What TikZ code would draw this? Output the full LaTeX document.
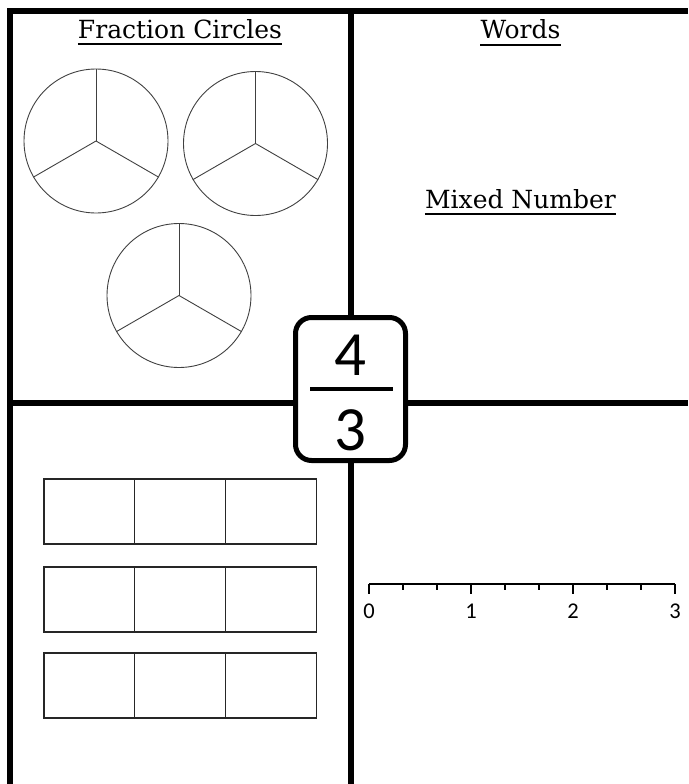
\documentclass[tikz,border=0pt]{standalone}
\usepackage{fontspec}
\setmainfont{DejaVu Serif}
\newfontfamily\digitfont{Carlito}
\usepackage{tikz}
\usetikzlibrary{positioning,calc}

\begin{document}
\begin{tikzpicture}[x=1pt, y=-1pt,
    frame/.style={line width=6, line join=miter},
    heading/.style={anchor=base, inner sep=0, font=\fontsize{25}{30}\selectfont},
    uline/.style={line width=1.8},
    pie/.style={circle, draw=black!75, line width=0.9, minimum size=144, inner sep=0},
    spoke/.style={draw=black!75, line width=0.9},
    cell/.style={draw=black!85, line width=1.2},
    fracbox/.style={draw, fill=white, line width=5, rounded corners=16, minimum width=110, minimum height=143},
    digit/.style={inner sep=0, font=\digitfont\fontsize{63}{70}\selectfont},
    numlabel/.style={inner sep=0, font=\digitfont\fontsize{22.5}{26}\selectfont}
]
    \useasboundingbox (0,0) rectangle (688,784);

    % Frame and quadrant lines
    \draw[frame] (10,784) -- (10,11) -- (688,11);
    \draw[frame] (351,11) -- (351,784);
    \draw[frame] (7,403) -- (688,403);

    % Headings
    \node[heading] (fc) at (180,38) {Fraction Circles};
    \node[heading] (words) at (520.5,39) {Words};
    \node[heading] (mixed) at (520.5,208) {Mixed Number};
    \foreach \n in {fc,words,mixed}
        \draw[uline] ([yshift=-6pt]\n.base west) -- ([yshift=-6pt]\n.base east);

    % Fraction circles, each cut into thirds
    \node[pie] (pie1) at (96,141) {};
    \node[pie] (pie2) at (255.5,143.5) {};
    \node[pie] (pie3) at (179,295.5) {};
    \foreach \p in {pie1,pie2,pie3}
        \foreach \a in {90,-30,210}
            \draw[spoke] (\p.center) -- (\p.\a);

    % Fraction bars
    \foreach \y in {479,567,653}
        \foreach \c in {0,1,2}
            \draw[cell] (44+\c*90.7,\y) rectangle ++(90.7,65);

    % Number line 0 to 3 in thirds
    \coordinate (nl0) at (369,584);
    \coordinate (nl3) at (675,584);
    \draw[line width=2] (nl0) -- (nl3);
    \foreach \i in {0,...,9} {
        \pgfmathtruncatemacro{\m}{mod(\i,3)}
        \ifnum\m=0
            \draw[line width=2] ($(nl0)+(\i*34,0)$) -- ++(0,10);
        \else
            \draw[line width=2] ($(nl0)+(\i*34,0)$) -- ++(0,6);
        \fi
    }
    \foreach \k in {0,1,2,3}
        \node[numlabel] (lbl\k) at ($(nl0)+(\k*102,27)$) {\k};

    % Fraction in the centre
    \node[fracbox] (box) at (350.5,389) {};
    \node[digit] (num) at (350.5,355) {4};
    \node[digit] (den) at (350.5,430) {3};
    \draw[line width=3.5] ($(box.west)+(17,0)$) -- ($(box.east)+(-15,0)$);
\end{tikzpicture}
\end{document}
